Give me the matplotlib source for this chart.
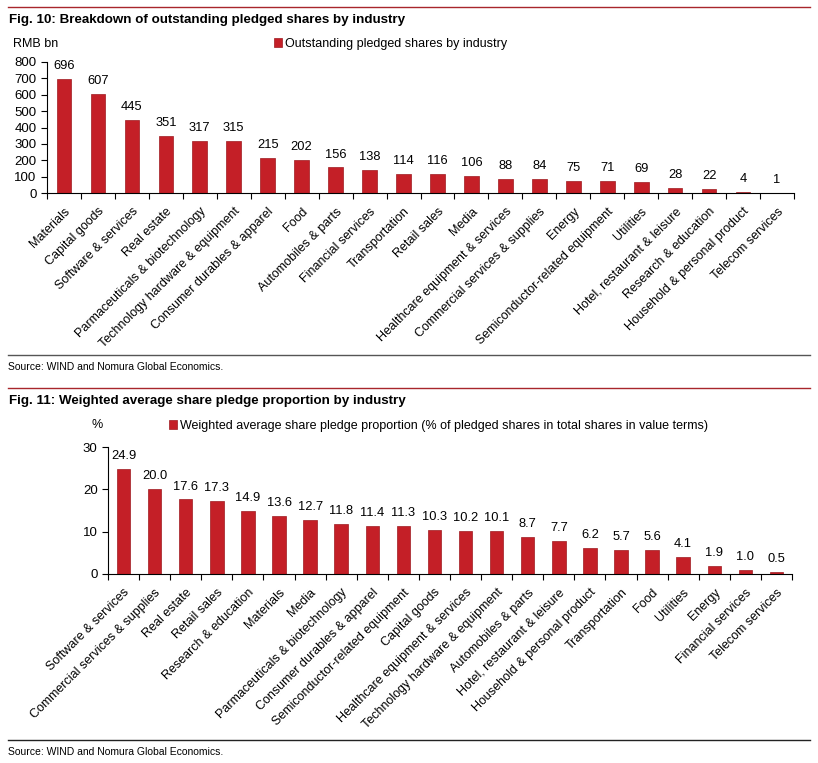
import numpy as np
import matplotlib.pyplot as plt
from matplotlib.lines import Line2D

plt.rcParams['font.family'] = ['Liberation Sans', 'DejaVu Sans']

# Fig. 10 data
industrias1 = ['Materials', 'Capital goods', 'Software & services', 'Real estate',
               'Parmaceuticals & biotechnology', 'Technology hardware & equipment',
               'Consumer durables & apparel', 'Food', 'Automobiles & parts',
               'Financial services', 'Transportation', 'Retail sales', 'Media',
               'Healthcare equipment & services', 'Commercial services & supplies',
               'Energy', 'Semiconductor-related equipment', 'Utilities',
               'Hotel, restaurant & leisure', 'Research & education',
               'Household & personal product', 'Telecom services']
valores1 = [696, 607, 445, 351, 317, 315, 215, 202, 156, 138, 114, 116, 106,
            88, 84, 75, 71, 69, 28, 22, 4, 1]

# Fig. 11 data
industrias2 = ['Software & services', 'Commercial services & supplies', 'Real estate',
               'Retail sales', 'Research & education', 'Materials', 'Media',
               'Parmaceuticals & biotechnology', 'Consumer durables & apparel',
               'Semiconductor-related equipment', 'Capital goods',
               'Healthcare equipment & services', 'Technology hardware & equipment',
               'Automobiles & parts', 'Hotel, restaurant & leisure',
               'Household & personal product', 'Transportation', 'Food', 'Utilities',
               'Energy', 'Financial services', 'Telecom services']
valores2 = [24.9, 20.0, 17.6, 17.3, 14.9, 13.6, 12.7, 11.8, 11.4, 11.3, 10.3, 10.2,
            10.1, 8.7, 7.7, 6.2, 5.7, 5.6, 4.1, 1.9, 1.0, 0.5]

rojo = '#C41F27'
W, H = 818, 763

fig = plt.figure(figsize=(W/100, H/100), dpi=100)

def fy(px):
  return 1 - px/H

def fx(px):
  return px/W

def grafico(ax, cats, vals, ymax, paso, fmt, etiqueta):
  x = np.arange(len(cats))
  barras = ax.bar(x, vals, width=0.43, color=rojo, edgecolor='#9E1A20',
                  linewidth=0.5, label=etiqueta)
  for xi, v in zip(x, vals):
    ax.annotate(fmt.format(v), (xi, v), xytext=(0, 5), textcoords='offset points',
                ha='center', va='bottom', fontsize=9.3)
  ax.set_xlim(-0.5, len(cats) - 0.5)
  ax.set_ylim(0, ymax)
  ax.set_yticks(np.arange(0, ymax + paso, paso))
  ax.set_xticks(x)
  ax.set_xticklabels(cats, rotation=45, ha='right', rotation_mode='anchor', fontsize=9)
  ax.set_xticks(np.arange(-0.5, len(cats)), minor=True)
  ax.tick_params(axis='x', which='major', length=0, pad=9)
  ax.tick_params(axis='x', which='minor', length=4, direction='out', width=0.8)
  ax.tick_params(axis='y', length=4, direction='out', labelsize=9.5, width=0.8)
  for s in ['top', 'right']:
    ax.spines[s].set_visible(False)
  for s in ['left', 'bottom']:
    ax.spines[s].set_linewidth(0.8)
  return barras

# Fig. 10
ax1 = fig.add_axes([fx(47), fy(193), fx(794) - fx(47), fy(62) - fy(193)])
grafico(ax1, industrias1, valores1, 800, 100, '{:d}',
        'Outstanding pledged shares by industry')
ax1.legend(loc='center left', bbox_to_anchor=(fx(274), fy(44)), bbox_transform=fig.transFigure,
           frameon=False, handlelength=0.65, handleheight=0.65, handletextpad=0.2,
           borderpad=0, borderaxespad=0, fontsize=9)

# Fig. 11
ax2 = fig.add_axes([fx(108), fy(574), fx(792) - fx(108), fy(447) - fy(574)])
grafico(ax2, industrias2, valores2, 30, 10, '{:.1f}',
        'Weighted average share pledge proportion (% of pledged shares in total shares in value terms)')
ax2.legend(loc='center left', bbox_to_anchor=(fx(169), fy(426)), bbox_transform=fig.transFigure,
           frameon=False, handlelength=0.65, handleheight=0.65, handletextpad=0.2,
           borderpad=0, borderaxespad=0, fontsize=9)

# Titulos y textos
fig.text(fx(9), fy(20), 'Fig. 10: Breakdown of outstanding pledged shares by industry',
         fontsize=9.6, fontweight='bold', va='center')
fig.text(fx(13), fy(44), 'RMB bn', fontsize=9, va='center')
fig.text(fx(8), fy(367), 'Source: WIND and Nomura Global Economics.', fontsize=7.5, va='center')
fig.text(fx(9), fy(401), 'Fig. 11: Weighted average share pledge proportion by industry',
         fontsize=9.6, fontweight='bold', va='center')
fig.text(fx(92), fy(425), '%', fontsize=9, va='center')
fig.text(fx(8), fy(752), 'Source: WIND and Nomura Global Economics.', fontsize=7.5, va='center')

# Lineas separadoras
for y, c in [(7, '#A8262C'), (388, '#A8262C'), (355, '#555555'), (740, '#222222')]:
  fig.add_artist(Line2D([fx(8), fx(810)], [fy(y), fy(y)], color=c, linewidth=1.0,
                        transform=fig.transFigure))

plt.savefig('out.png', dpi=100)
